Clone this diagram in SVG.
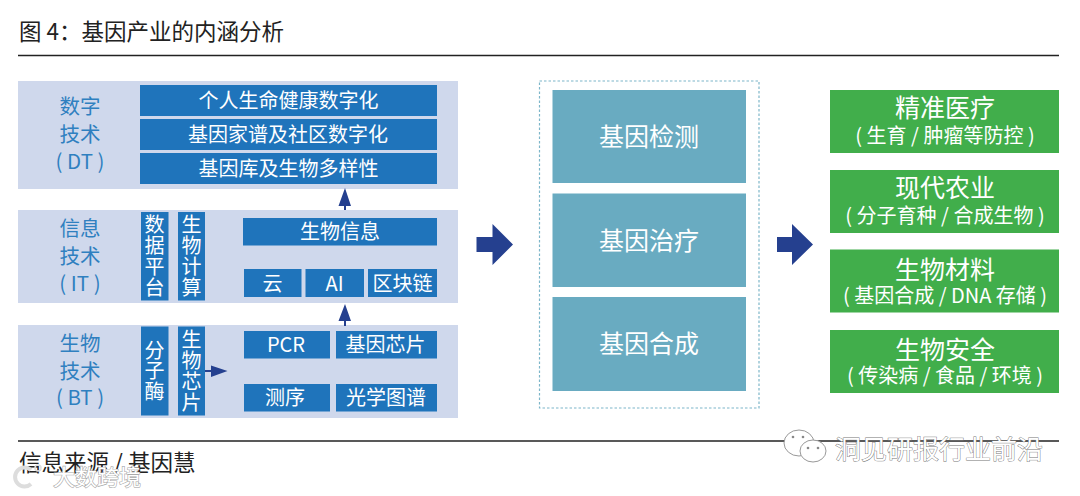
<svg xmlns="http://www.w3.org/2000/svg" width="1080" height="496" viewBox="0 0 1080 496">
<style>
text{font-family:"Noto Sans CJK SC","Noto Sans",sans-serif;text-anchor:middle}
.panel{fill:#cfd8ec}
.bar{fill:#1f74bb}
.teal{fill:#69abc1}
.green{fill:#41ae4b}
.w{fill:#fff}
.t20{font-size:20px}
.big{font-size:25px}
.lab{fill:#2f80c0;font-size:20.5px}
.head{fill:#222;font-size:22.5px;text-anchor:start}
.arrow{fill:#25408f}
.rule{stroke:#222;stroke-width:1.5}
.wm{fill:#fff;stroke:#777;stroke-width:.9;paint-order:stroke}
.wm2{fill:#fff;stroke:#aaa;stroke-width:1.200;paint-order:stroke}
.ic{fill:#fff;stroke:#999;stroke-width:1}
.eye{fill:#888}
</style>
<rect width="1080" height="496" fill="#fff"/>
<text class="head" x="19" y="40" xml:space="preserve">图 4：基因产业的内涵分析</text>
<line class="rule" x1="18" y1="55.500" x2="1059" y2="55.500"/>
<line class="rule" x1="18" y1="441" x2="1059" y2="441"/>

<g id="panel-dt">
<rect class="panel" x="18" y="81" width="440" height="108"/>
<text class="lab"><tspan x="80" y="114">数字</tspan><tspan x="80" y="142">技术</tspan><tspan x="80" y="169">( DT )</tspan></text>
</g>
<g id="dt-1"><rect class="bar" x="140" y="85" width="297" height="31"/><text class="w t20" x="288.500" y="108">个人生命健康数字化</text></g>
<g id="dt-2"><rect class="bar" x="140" y="119" width="297" height="31"/><text class="w t20" x="288" y="142">基因家谱及社区数字化</text></g>
<g id="dt-3"><rect class="bar" x="140" y="153" width="297" height="31"/><text class="w t20" x="288.500" y="176">基因库及生物多样性</text></g>

<g id="panel-it">
<rect class="panel" x="18" y="210" width="440" height="93"/>
<text class="lab"><tspan x="80" y="236">信息</tspan><tspan x="80" y="264">技术</tspan><tspan x="80" y="291">( IT )</tspan></text>
</g>
<g id="it-data"><rect class="bar" x="141" y="212" width="27.500" height="88.500"/><text class="w t20"><tspan x="154.500" y="232">数</tspan><tspan x="154.500" y="253">据</tspan><tspan x="154.500" y="274">平</tspan><tspan x="154.500" y="295">台</tspan></text></g>
<g id="it-calc"><rect class="bar" x="178" y="212" width="27" height="88.500"/><text class="w t20"><tspan x="191.500" y="232">生</tspan><tspan x="191.500" y="253">物</tspan><tspan x="191.500" y="274">计</tspan><tspan x="191.500" y="295">算</tspan></text></g>
<g id="it-info"><rect class="bar" x="243" y="218" width="194" height="27.500"/><text class="w t20" x="340" y="239">生物信息</text></g>
<g id="it-cloud"><rect class="bar" x="244" y="269" width="57.500" height="28"/><text class="w t20" x="272.500" y="290.500">云</text></g>
<g id="it-ai"><rect class="bar" x="305.500" y="269" width="58.500" height="28"/><text class="w t20" x="334.500" y="290.500">AI</text></g>
<g id="it-chain"><rect class="bar" x="368" y="269" width="69" height="28"/><text class="w t20" x="402.500" y="290.500">区块链</text></g>

<g id="panel-bt">
<rect class="panel" x="18" y="325" width="440" height="93"/>
<text class="lab"><tspan x="80" y="351">生物</tspan><tspan x="80" y="379">技术</tspan><tspan x="80" y="405">( BT )</tspan></text>
</g>
<g id="bt-enzyme"><rect class="bar" x="141" y="326.500" width="27.500" height="89"/><text class="w t20"><tspan x="154.500" y="358">分</tspan><tspan x="154.500" y="378">子</tspan><tspan x="154.500" y="399">酶</tspan></text></g>
<g id="bt-chip"><rect class="bar" x="178" y="326.500" width="27" height="89"/><text class="w t20"><tspan x="191.500" y="347">生</tspan><tspan x="191.500" y="368">物</tspan><tspan x="191.500" y="389">芯</tspan><tspan x="191.500" y="410">片</tspan></text></g>
<g id="bt-pcr"><rect class="bar" x="244" y="331" width="86" height="27.500"/><text class="w t20" x="286" y="352">PCR</text></g>
<g id="bt-genechip"><rect class="bar" x="336" y="331" width="101" height="27.500"/><text class="w t20" x="385.500" y="352">基因芯片</text></g>
<g id="bt-seq"><rect class="bar" x="244" y="384" width="86" height="27.500"/><text class="w t20" x="285" y="405">测序</text></g>
<g id="bt-map"><rect class="bar" x="336" y="384" width="101" height="27.500"/><text class="w t20" x="386" y="405">光学图谱</text></g>

<g id="connectors">
<path class="arrow" d="M345 188L351 206H346V210H344V206H338.500Z"/>
<path class="arrow" d="M345 304L351 321H346V326H344V321H338.500Z"/>
<path class="arrow" d="M205 370H211V365.500L227.500 371L211 377V372H205Z"/>
<path class="arrow" d="M476.500 237H492.500V224L513 244.500L492.500 265V252H476.500Z"/>
<path class="arrow" d="M777 237H792V224L813 244.500L792 265V252H777Z"/>
</g>

<g id="middle">
<rect x="539.500" y="81" width="219.500" height="327" fill="none" stroke="#7db6c9" stroke-width="1.200" stroke-dasharray="2.500 2"/>
</g>
<g id="m-1"><rect class="teal" x="552.500" y="90" width="193.500" height="93"/><text class="w big" x="649" y="146">基因检测</text></g>
<g id="m-2"><rect class="teal" x="552.500" y="193.500" width="193.500" height="93.500"/><text class="w big" x="649" y="249.500">基因治疗</text></g>
<g id="m-3"><rect class="teal" x="552.500" y="297" width="193.500" height="94"/><text class="w big" x="649" y="352.500">基因合成</text></g>

<g id="g-1"><rect class="green" x="830" y="90" width="229" height="63"/><text class="w big" x="945" y="117">精准医疗</text><text class="w t20" x="945" y="143">( 生育 / 肿瘤等防控 )</text></g>
<g id="g-2"><rect class="green" x="830" y="170" width="229" height="63"/><text class="w big" x="945" y="197">现代农业</text><text class="w t20" x="945" y="223">( 分子育种 / 合成生物 )</text></g>
<g id="g-3"><rect class="green" x="830" y="249.500" width="229" height="63"/><text class="w big" x="945" y="279">生物材料</text><text class="w t20" x="945" y="302.500">( 基因合成 / DNA 存储 )</text></g>
<g id="g-4"><rect class="green" x="830" y="330" width="229" height="63"/><text class="w big" x="945" y="359">生物安全</text><text class="w t20" x="945" y="382.500">( 传染病 / 食品 / 环境 )</text></g>

<text class="head" x="19" y="471">信息来源 / 基因慧</text>

<g id="watermarks">
<ellipse class="ic" cx="799" cy="443" rx="15" ry="13"/>
<ellipse class="ic" cx="813" cy="451" rx="13" ry="11"/>
<circle class="eye" cx="793" cy="437" r="1.300"/><circle class="eye" cx="803" cy="437" r="1.300"/>
<circle class="eye" cx="808" cy="448" r="1.300"/><circle class="eye" cx="818" cy="448" r="1.300"/>
<text class="wm" font-size="26" x="939" y="459">洞见研报行业前沿</text>
<path d="M31 470A9.500 9.500 0 1 0 31 484" fill="none" stroke="#ddd" stroke-width="4"/>
<circle cx="38" cy="468" r="3" fill="none" stroke="#ddd" stroke-width="1.500"/>
<text class="wm2" font-size="22" x="97" y="485">大数跨境</text>
</g>
</svg>
